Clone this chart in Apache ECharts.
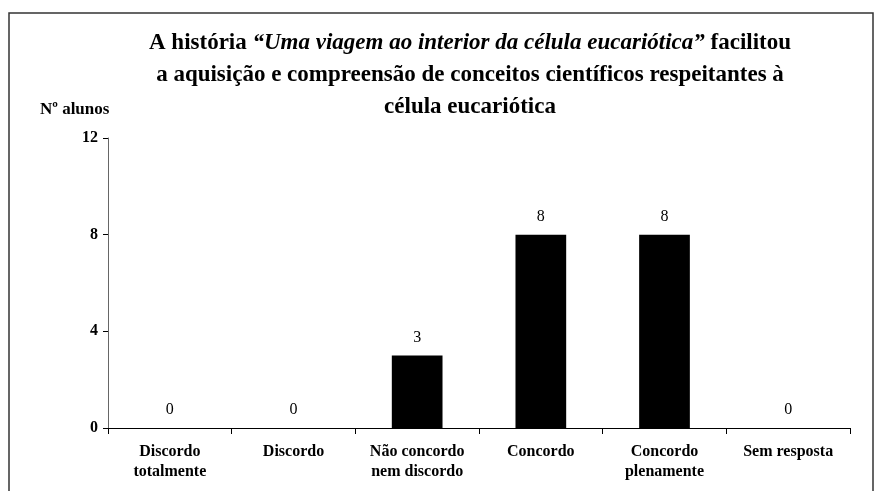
<!DOCTYPE html>
<html>
<head>
<meta charset="utf-8">
<script src="https://cdn.jsdelivr.net/npm/echarts@6/dist/echarts.min.js"></script>
<style>
  html, body { margin: 0; padding: 0; background: #fff; }
  #chart { width: 874px; height: 491px; }
</style>
</head>
<body>
<div id="chart"></div>
<script>
// categorias e valores
const categories = ['Discordo\ntotalmente', 'Discordo', 'Não concordo\nnem discordo', 'Concordo', 'Concordo\nplenamente', 'Sem resposta']
const alunos = [0, 0, 3, 8, 8, 0]
const yTicks = [0, 4, 8, 12]

const chart = echarts.init(document.getElementById('chart'))

const serif = '"Liberation Serif", "DejaVu Serif", serif'

const option = {
  animation: false,
  backgroundColor: '#fff',
  title: {
    text: '{b|A história }{i|“Uma viagem ao interior da célula eucariótica”}{b| facilitou}\n{b|a aquisição e compreensão de conceitos científicos respeitantes à}\n{b|célula eucariótica}',
    left: 465,
    top: 22,
    textAlign: 'center',
    textStyle: {
      rich: {
        b: { fontFamily: serif, fontWeight: 'bold', fontSize: 23, color: '#000', lineHeight: 32 },
        i: { fontFamily: serif, fontWeight: 'bold', fontStyle: 'italic', fontSize: 23, color: '#000', lineHeight: 32 }
      }
    }
  },
  graphic: [
    {
      type: 'rect',
      shape: { x: 9, y: 13, width: 864, height: 520 },
      style: { fill: 'none', stroke: '#333', lineWidth: 1.5 },
      silent: true
    },
    {
      type: 'text',
      left: 40,
      top: 101,
      style: { text: 'Nº alunos', font: 'bold 17px ' + serif, fill: '#000' }
    }
  ],
  grid: {
    left: 108,
    right: 24,
    top: 138,
    bottom: 63
  },
  xAxis: {
    type: 'category',
    data: categories,
    axisLine: { lineStyle: { color: '#000', width: 1 } },
    axisTick: { show: true, alignWithLabel: false, length: 6, lineStyle: { color: '#000' } },
    axisLabel: {
      interval: 0,
      margin: 14,
      fontFamily: serif,
      fontWeight: 'bold',
      fontSize: 16,
      color: '#000',
      lineHeight: 20
    }
  },
  yAxis: {
    type: 'value',
    min: 0,
    max: 12,
    interval: 4,
    axisLine: { show: true, lineStyle: { color: '#666', width: 1 } },
    axisTick: { show: true, length: 5, lineStyle: { color: '#000' } },
    splitLine: { show: false },
    axisLabel: {
      margin: 10,
      fontFamily: serif,
      fontWeight: 'bold',
      fontSize: 16,
      color: '#000',
      formatter: v => yTicks.includes(v) ? String(v) : ''
    }
  },
  series: [{
    type: 'bar',
    data: alunos,
    barWidth: '41%',
    itemStyle: { color: '#000' },
    label: {
      show: true,
      position: 'top',
      distance: 10,
      fontFamily: serif,
      fontSize: 16,
      color: '#000'
    }
  }]
}

chart.setOption(option)
</script>
</body>
</html>
